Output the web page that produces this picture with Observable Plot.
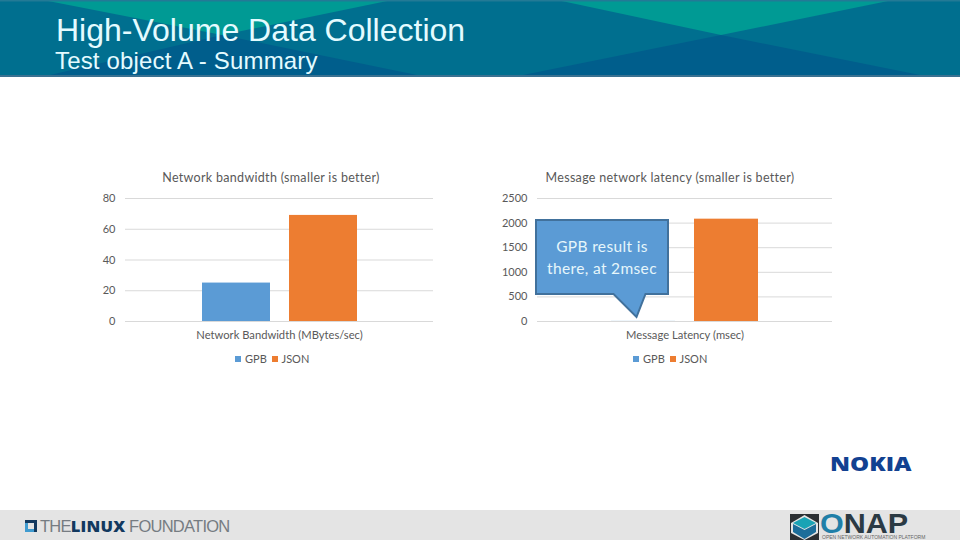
<!DOCTYPE html>
<html>
<head>
<meta charset="utf-8">
<script src="https://cdn.jsdelivr.net/npm/d3@7"></script>
<script src="https://cdn.jsdelivr.net/npm/@observablehq/plot@0.6"></script>
<style>
html,body{margin:0;padding:0;background:#fff;}
#page{position:relative;width:960px;height:540px;overflow:hidden;font-family:Lato,sans-serif;}
.abs{position:absolute;}
.abs svg{display:block;}
#t1{left:56px;top:12px;font:32px "Liberation Sans",sans-serif;color:#e4fbff;white-space:nowrap;}
#t2{left:55px;top:47px;font:24px "Liberation Sans",sans-serif;color:#e4fbff;white-space:nowrap;letter-spacing:.17px;}
.ctitle{top:170px;font:12.5px/16px Lato,sans-serif;color:#595959;white-space:nowrap;transform:translateX(-50%);letter-spacing:.3px;}
.legend{top:352px;font:11px/14px Lato,sans-serif;color:#595959;white-space:nowrap;}
.sw{position:absolute;top:4px;width:6px;height:6px;}
.ltx{position:absolute;top:0;}
.call{font:15.5px/22px Lato,sans-serif;color:#e6f6fb;text-align:center;left:535px;width:134px;top:235px;letter-spacing:.35px;}
#foot{left:0;top:510px;width:960px;height:30px;background:#e4e4e4;}
#lf{left:40px;top:517px;font:16.5px/18px "Liberation Sans",sans-serif;color:#767c82;white-space:nowrap;letter-spacing:-.75px;font-weight:400;}
#lf b{color:#12395f;font-weight:900;font-family:"Open Sans",sans-serif;letter-spacing:.2px;}
#nokia{left:830px;top:453px;font:900 18.5px/22px "Open Sans",sans-serif;color:#124191;white-space:nowrap;transform-origin:left;transform:scaleX(1.3);}
#onap{left:820px;top:513px;font:700 28px/22px "Liberation Sans",sans-serif;color:#2b3a44;white-space:nowrap;transform-origin:left;transform:scaleX(1.09);}
#onap span{color:#1f7fa8;}
#onapsub{left:822px;top:535px;font:5px/5px "Liberation Sans",sans-serif;color:#666;white-space:nowrap;}
</style>
</head>
<body>
<div id="page"></div>
<script>
const seriesNames = ["GPB", "JSON"];
const colors = ["#5B9BD5", "#ED7D31"];

const bandwidthTitle = "Network bandwidth (smaller is better)";
const bandwidthCategory = "Network Bandwidth (MBytes/sec)";
const bandwidthValues = [25, 69];
const bandwidthTicks = [0, 20, 40, 60, 80];

const latencyTitle = "Message network latency (smaller is better)";
const latencyCategory = "Message Latency (msec)";
const latencyValues = [2, 2080];
const latencyTicks = [0, 500, 1000, 1500, 2000, 2500];

const calloutLines = ["GPB result is", "there, at 2msec"];

const page = document.getElementById("page");
function add(html) {
  const t = document.createElement("template");
  t.innerHTML = html.trim();
  return page.appendChild(t.content.firstChild);
}

// Banner
add(`<svg class="abs" style="left:0;top:0" width="960" height="78">
  <rect width="960" height="77" fill="#3a7191"/>
  <rect width="960" height="75" fill="#006F8F"/>
  <polygon points="43,0 222,35 392,0" fill="#009A94"/>
  <polygon points="557,0 721,35 893,0" fill="#009A94"/>
  <polygon points="50,75 222,35 417,75" fill="#005E8C"/>
  <polygon points="523,75 721,35 920,75" fill="#005E8C"/>
  <rect width="960" height="1.5" fill="#237a96"/>
</svg>`);
add(`<div class="abs" id="t1">High-Volume Data Collection</div>`);
add(`<div class="abs" id="t2">Test object A - Summary</div>`);

function barChart({left, width, marginLeft, marginRight, category, values, ticks, inner, outer}) {
  const rows = seriesNames.map((s, i) => ({category, series: s, value: values[i]}));
  const svg = Plot.plot({
    width, height: 190,
    marginTop: 28, marginBottom: 39, marginLeft, marginRight,
    style: {fontFamily: "Lato, sans-serif", fontSize: "11px", color: "#595959", background: "transparent"},
    fx: {padding: 0, domain: [category], axis: null},
    x: {domain: seriesNames, paddingInner: inner, paddingOuter: outer, axis: null},
    y: {domain: [0, ticks[ticks.length - 1]], axis: null},
    color: {domain: seriesNames, range: colors},
    marks: [
      Plot.ruleY(ticks, {stroke: "#D9D9D9", strokeWidth: 1}),
      Plot.barY(rows, {fx: "category", x: "series", y: "value", fill: "series"}),
      Plot.axisY({ticks, tickSize: 0, tickPadding: 10, label: null, fill: "#595959", tickFormat: d => String(d)}),
      Plot.axisFx({anchor: "bottom", tickSize: 0, tickPadding: 10, label: null, fill: "#595959", fontSize: 11.2})
    ]
  });
  const box = add(`<div class="abs" style="left:${left}px;top:170px"></div>`);
  box.appendChild(svg);
}

barChart({left: 0, width: 480, marginLeft: 125, marginRight: 47,
  category: bandwidthCategory, values: bandwidthValues, ticks: bandwidthTicks, inner: 0.22, outer: 0.87});
barChart({left: 480, width: 480, marginLeft: 57, marginRight: 128,
  category: latencyCategory, values: latencyValues, ticks: latencyTicks, inner: 0.226, outer: 0.869});

add(`<div class="abs ctitle" style="left:271px">${bandwidthTitle}</div>`);
add(`<div class="abs ctitle" style="left:670px">${latencyTitle}</div>`);

function legend(x) {
  const l = add(`<div class="abs legend" style="left:${x}px"></div>`);
  [[0, 10], [37, 46.5]].forEach(([sx, tx], i) => {
    l.insertAdjacentHTML("beforeend",
      `<span class="sw" style="left:${sx}px;background:${colors[i]}"></span><span class="ltx" style="left:${tx}px">${seriesNames[i]}</span>`);
  });
}
legend(235);
legend(633);

// Callout
add(`<svg class="abs" style="left:0;top:0" width="960" height="540">
  <path d="M536,220 H668 V294 H645.5 L636.5,317 L613.5,294 H536 Z" fill="#5B9BD5" stroke="#41719C" stroke-width="2"/>
</svg>`);
add(`<div class="abs call">${calloutLines.join("<br>")}</div>`);

// Footer
add(`<div class="abs" id="foot"></div>`);
add(`<svg class="abs" style="left:25px;top:520px" width="13" height="12">
  <rect width="12" height="12" fill="#12395f"/><rect x="0" y="3" width="9" height="9" fill="#3f9bd0"/><rect x="3" y="3" width="6" height="6" fill="#e4e4e4"/>
</svg>`);
add(`<div class="abs" id="lf">THE<b>LINUX</b> FOUNDATION</div>`);
add(`<div class="abs" id="nokia">NOKIA</div>`);
add(`<svg class="abs" style="left:790px;top:514px" width="29" height="26">
  <rect width="29" height="26" fill="#2b2f33"/>
  <polygon points="14.5,1 28,9 28,19 14.5,26 1,19 1,9" fill="#e4e4e4"/>
  <polygon points="14.5,3 26,9 14.5,15 3,9" fill="#19a3b5"/>
  <polygon points="3,10 14.5,16 26,10 26,18 14.5,25 3,18" fill="#1b6d9a"/>
</svg>`);
add(`<div class="abs" id="onap"><span>O</span>NAP</div>`);
add(`<div class="abs" id="onapsub">OPEN NETWORK AUTOMATION PLATFORM</div>`);
</script>
</body>
</html>
